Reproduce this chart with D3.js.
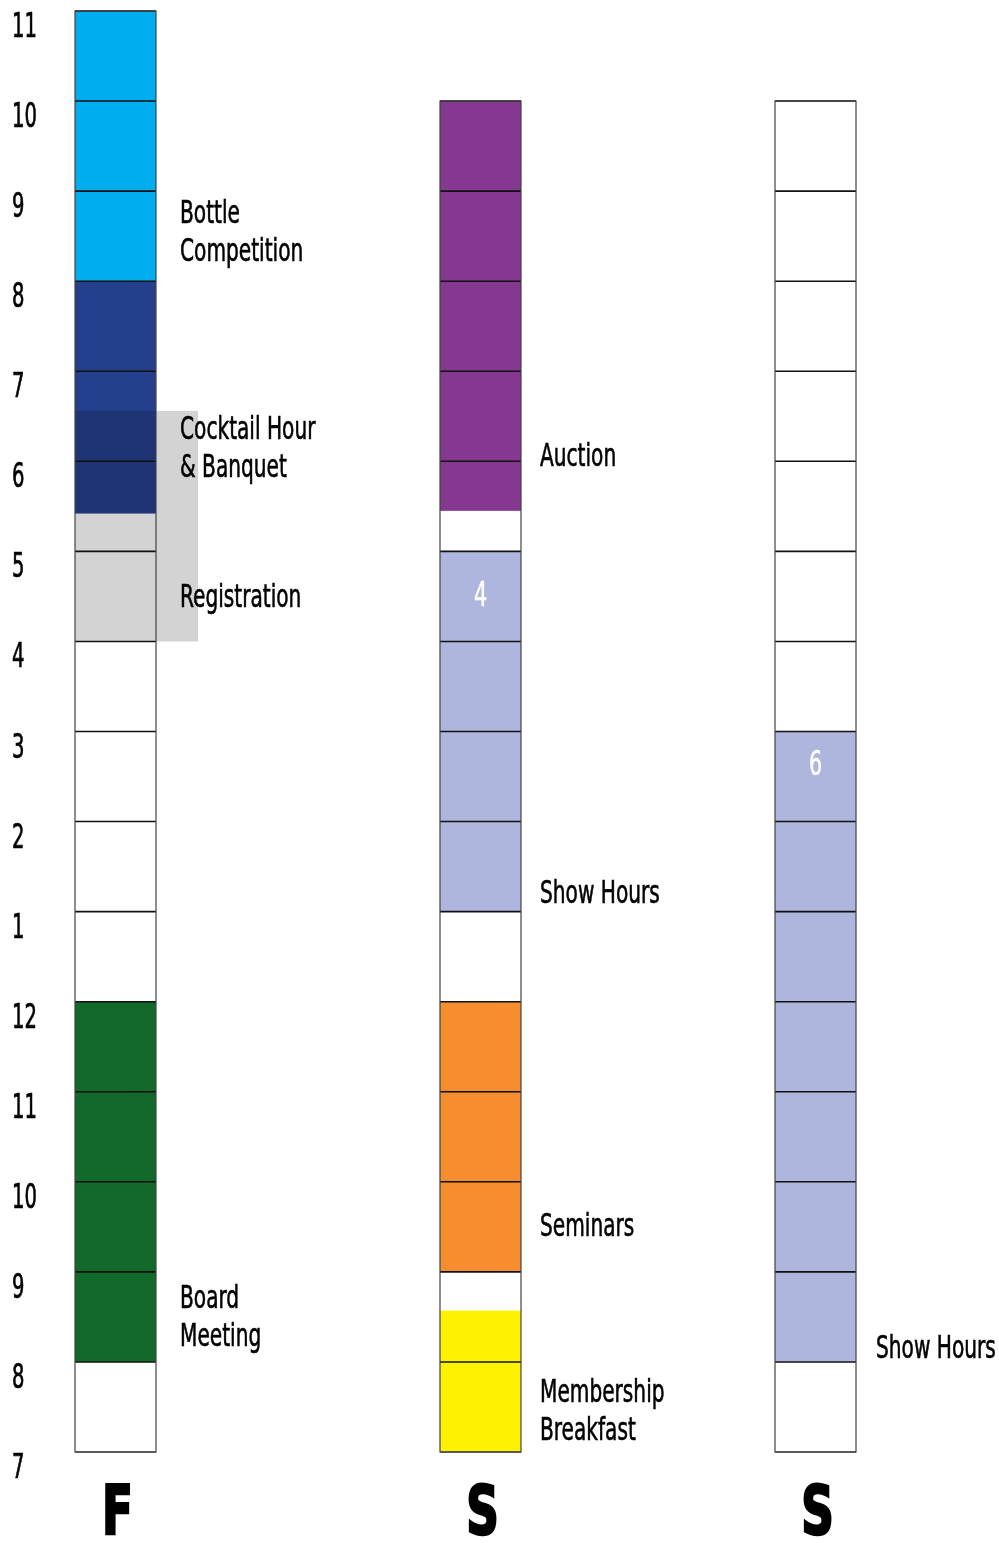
<!DOCTYPE html>
<html>
<head>
<meta charset="utf-8">
<script src="https://cdn.jsdelivr.net/npm/d3@7"></script>
<style>
  body { margin: 0; background: #fff; }
  text { font-family: "Liberation Sans Narrow", "DejaVu Sans Condensed", "Arial Narrow", sans-serif; }
</style>
</head>
<body>
<div id="chart"></div>
<script>
// Hours on the left axis (24h clock) and the labels printed for them
const hourTicks = [7, 8, 9, 10, 11, 12, 13, 14, 15, 16, 17, 18, 19, 20, 21, 22, 23];
const hourLabels = ["7", "8", "9", "10", "11", "12", "1", "2", "3", "4", "5", "6", "7", "8", "9", "10", "11"];

// Days (columns)
const dayIds = ["Fri", "Sat", "Sun"];
const dayLetters = ["F", "S", "S"];
const dayOpen = [7, 7, 7];
const dayClose = [23, 22, 22];

// Events
const eventDay = ["Fri", "Fri", "Fri", "Fri", "Sat", "Sat", "Sat", "Sat", "Sun"];
const eventName = ["Board|Meeting", "Registration", "Cocktail Hour|& Banquet", "Bottle|Competition",
                   "Membership|Breakfast", "Seminars", "Show Hours", "Auction", "Show Hours"];
const eventStart = [8, 16, 17.42, 20, 7, 9, 13, 17.45, 8];
const eventEnd = [12, 18.56, 20, 23, 8.57, 12, 17, 22, 15];
const labelHour = [8.6, 16.38, 18.25, 20.65, 7.55, 9.4, 13.1, 17.95, 8.04];
const badgeText = ["", "", "", "", "", "", "4", "", "6"];
const badgeHour = [0, 0, 0, 0, 0, 0, 16.39, 0, 14.52];

const colors = {
    "Board|Meeting": "#126a2a",
    "Registration": "#d3d3d3",
    "Cocktail Hour|& Banquet": "#243f8c",
    "Bottle|Competition": "#00aeef",
    "Membership|Breakfast": "#fff200",
    "Seminars": "#f68d2e",
    "Show Hours": "#aeb6dd",
    "Auction": "#85388f"
};

const width = 999, height = 1543;
const colW = 81;

const svg = d3.select("#chart").append("svg")
    .attr("width", width)
    .attr("height", height);

const y = d3.scaleLinear().domain([7, 23]).range([1452, 11]);
const x = d3.scaleOrdinal().domain(dayIds).range([75, 440, 775]);
const labelX = d3.scaleOrdinal().domain(dayIds).range([180, 540, 876]);

const days = dayIds.map((id, i) => ({ id, letter: dayLetters[i], open: dayOpen[i], close: dayClose[i] }));
const events = eventDay.map((d, i) => ({
    day: d, name: eventName[i], start: eventStart[i], end: eventEnd[i],
    labelAt: labelHour[i], badge: badgeText[i], badgeAt: badgeHour[i]
}));

// Hour axis
const axis = svg.append("g")
    .call(d3.axisLeft(y).tickValues(hourTicks).tickSize(0)
        .tickFormat((d, i) => hourLabels[i]));
axis.select(".domain").remove();
axis.selectAll(".tick").attr("transform", d => `translate(12,${y(d)}) scale(0.66,1)`);
axis.selectAll("text")
    .attr("x", 0)
    .attr("dy", 26)
    .attr("text-anchor", "start")
    .attr("fill", "#000")
    .attr("stroke", "#000")
    .attr("stroke-width", 0.7)
    .style("font-size", "33px")
    .style("font-family", null);

// Column backgrounds
svg.selectAll(".col-bg")
    .data(days)
    .enter()
    .append("rect")
        .attr("class", "col-bg")
        .attr("x", d => x(d.id))
        .attr("y", d => y(d.close))
        .attr("width", colW)
        .attr("height", d => y(d.open) - y(d.close))
        .attr("fill", "#fff");

// Event blocks
svg.selectAll(".event")
    .data(events)
    .enter()
    .append("rect")
        .attr("class", "event")
        .attr("x", d => x(d.day))
        .attr("y", d => y(d.end))
        .attr("width", d => d.name === "Registration" ? colW + 42 : colW)
        .attr("height", d => y(d.start) - y(d.end))
        .attr("fill", d => colors[d.name])
        .style("mix-blend-mode", d => d.name.startsWith("Cocktail") ? "multiply" : null);

// Hour grid lines inside each column
const gridData = days.flatMap(d => d3.range(d.open, d.close + 1).map(h => ({ id: d.id, h })));
svg.selectAll(".grid")
    .data(gridData)
    .enter()
    .append("line")
        .attr("class", "grid")
        .attr("x1", d => x(d.id))
        .attr("x2", d => x(d.id) + colW)
        .attr("y1", d => y(d.h))
        .attr("y2", d => y(d.h))
        .attr("stroke", d => d.h === 7 ? "#555" : "#111")
        .attr("stroke-width", 1.6);

// Column side borders
svg.selectAll(".col-border")
    .data(days)
    .enter()
    .append("rect")
        .attr("class", "col-border")
        .attr("x", d => x(d.id))
        .attr("y", d => y(d.close))
        .attr("width", colW)
        .attr("height", d => y(d.open) - y(d.close))
        .attr("fill", "none")
        .attr("stroke", "#444")
        .attr("stroke-width", 1.2);

// Event labels
const labels = svg.selectAll(".label")
    .data(events)
    .enter()
    .append("text")
        .attr("class", "label")
        .attr("transform", d => `translate(${labelX(d.day)},${y(d.labelAt)}) scale(0.7,1)`)
        .style("font-size", "32px")
        .attr("fill", "#000")
        .attr("stroke", "#000")
        .attr("stroke-width", 0.6);
labels.selectAll("tspan")
    .data(d => d.name.split("|"))
    .enter()
    .append("tspan")
        .attr("x", 0)
        .attr("dy", (d, i) => i === 0 ? 0 : 38)
        .text(d => d);

// White numbers inside cells
svg.selectAll(".badge")
    .data(events.filter(d => d.badge))
    .enter()
    .append("text")
        .attr("class", "badge")
        .attr("transform", d => `translate(${x(d.day) + colW / 2},${y(d.badgeAt)}) scale(0.7,1)`)
        .attr("text-anchor", "middle")
        .style("font-size", "33px")
        .attr("fill", "#fff")
        .attr("stroke", "#fff")
        .attr("stroke-width", 0.5)
        .text(d => d.badge);

// Day letters
svg.selectAll(".day")
    .data(days)
    .enter()
    .append("text")
        .attr("class", "day")
        .attr("transform", d => `translate(${x(d.id) + colW / 2 + 2},1534) scale(0.74,1)`)
        .attr("text-anchor", "middle")
        .style("font-size", "68px")
        .style("font-weight", "bold")
        .attr("fill", "#000")
        .attr("stroke", "#000")
        .attr("stroke-width", 2.5)
        .text(d => d.letter);
</script>
</body>
</html>
